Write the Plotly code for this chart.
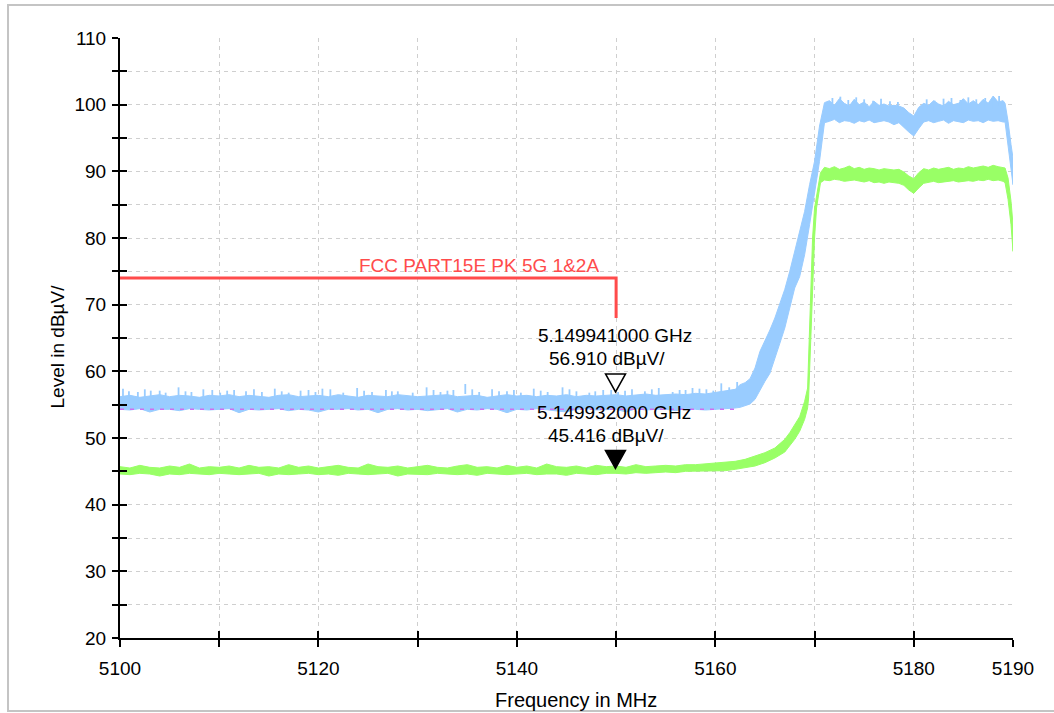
import numpy as np
import plotly.graph_objects as go

# ---------------- data ----------------
# Trace 1 (blue, peak detector): upper / lower envelope of the noisy trace
blue_left_f = np.arange(5100.0, 5162.01, 1.0)
blue_left_hi = [
    56.2, 56.4, 56.1, 56.3, 56.5, 56.2, 56.4, 56.3, 56.1, 56.4,
    56.3, 56.5, 56.2, 56.4, 56.3, 56.1, 56.4, 56.5, 56.2, 56.3,
    56.4, 56.2, 56.5, 56.3, 56.1, 56.4, 56.3, 56.2, 56.5, 56.4,
    56.2, 56.3, 56.4, 56.5, 56.2, 56.3, 56.4, 56.1, 56.3, 56.5,
    56.3, 56.4, 56.2, 56.4, 56.3, 56.5, 56.2, 56.4, 56.3, 56.4,
    56.5, 56.3, 56.4, 56.6, 56.4, 56.5, 56.6, 56.5, 56.7, 56.6,
    56.8, 57.0, 57.3,
]
blue_left_lo = [
    54.3, 54.2, 54.4, 53.9, 54.3, 54.3, 54.1, 54.4, 54.3, 54.2,
    54.3, 54.4, 53.8, 54.3, 54.2, 54.3, 54.4, 54.1, 54.3, 54.2,
    53.9, 54.3, 54.3, 54.4, 54.2, 54.3, 53.8, 54.3, 54.4, 54.2,
    54.3, 54.1, 54.3, 54.4, 53.9, 54.3, 54.2, 54.4, 54.3, 53.8,
    54.3, 54.2, 54.4, 54.3, 54.1, 53.9, 54.3, 54.4, 54.2, 54.3,
    54.3, 53.9, 54.4, 54.2, 54.3, 54.3, 54.1, 54.4, 54.3, 54.2,
    54.3, 54.4, 54.5,
]
# isolated noise spikes above the blue band (frequency, peak level)
blue_spike_f = [5100.3, 5100.9, 5101.8, 5102.5, 5103.1, 5104.0, 5104.6, 5105.9, 5106.6, 5107.2,
                5108.4, 5109.3, 5110.1, 5110.8, 5111.5, 5112.7, 5113.5, 5114.3, 5115.6, 5116.3,
                5117.0, 5118.2, 5119.0, 5119.7, 5120.4, 5121.2, 5122.5, 5123.9, 5124.6, 5125.4,
                5126.8, 5127.4, 5128.0, 5129.5, 5130.9, 5131.6, 5132.3, 5133.0, 5133.6, 5134.8,
                5135.5, 5136.2, 5137.5, 5138.2, 5139.0, 5139.7, 5140.4, 5141.7, 5142.4, 5143.1,
                5144.6, 5145.3, 5146.0, 5147.3, 5147.9, 5148.7, 5149.5, 5150.2, 5150.9, 5151.6,
                5152.9, 5153.6, 5154.3, 5155.7, 5156.4, 5157.0, 5157.7, 5158.4, 5159.1, 5159.8,
                5160.6, 5161.4, 5162.2,
                5171.8, 5172.6, 5173.4, 5174.2, 5175.0, 5175.9, 5176.7, 5177.6, 5178.4, 5181.3,
                5182.1, 5183.0, 5183.8, 5184.7, 5185.5, 5186.3, 5187.2, 5188.0, 5188.6]
blue_spike_v = [57.4, 57.0, 56.9, 57.3, 57.1, 57.1, 56.8, 57.6, 57.0, 56.9,
                57.3, 57.2, 56.8, 57.1, 57.2, 57.0, 57.3, 56.9, 57.4, 57.0,
                56.8, 57.1, 57.2, 56.9, 57.4, 57.3, 56.8, 57.5, 57.1, 56.9,
                57.2, 57.0, 57.0, 56.8, 57.6, 57.2, 56.9, 57.1, 57.2, 58.1,
                57.3, 56.9, 57.3, 57.0, 57.0, 57.2, 56.8, 57.4, 57.1, 56.9,
                57.6, 57.3, 57.0, 56.8, 57.0, 57.2, 57.2, 56.9, 57.1, 57.3,
                57.0, 57.3, 57.5, 56.9, 57.2, 57.2, 57.5, 57.4, 57.3, 57.1,
                58.2, 57.6, 58.4,
                101.0, 101.2, 100.7, 101.1, 100.8, 100.6, 100.9, 100.5, 100.4, 100.8,
                100.6, 100.9, 101.0, 100.7, 101.1, 100.8, 101.0, 100.9, 101.3]
blue_rise_f = [5162.5, 5163, 5163.5, 5164, 5164.5, 5165, 5165.5, 5166, 5166.5,
               5167, 5167.5, 5168, 5168.5, 5169, 5169.5, 5170, 5170.5, 5171]
blue_rise_hi = [58.0, 58.3, 58.9, 60.5, 63.0, 64.5, 66.2, 68.0, 70.2,
                72.3, 75.0, 78.0, 80.7, 84.0, 88.0, 91.5, 96.8, 100.3]
blue_rise_lo = [54.6, 54.8, 55.1, 55.8, 57.2, 58.5, 59.7, 62.0, 64.2,
                66.5, 69.5, 72.5, 74.2, 77.5, 82.0, 86.5, 91.5, 97.3]
blue_top_f = np.arange(5171.5, 5189.01, 0.5)
blue_top_hi = [
    100.6, 99.9, 100.9, 100.2, 99.8, 100.8, 100.0, 100.4, 99.7, 100.5,
    99.9, 100.1, 99.8, 99.9, 99.8, 99.5, 98.8, 98.3, 99.6, 100.2,
    99.9, 100.6, 100.1, 99.8, 100.5, 100.0, 100.2, 100.9, 100.1, 100.6,
    100.0, 100.8, 100.2, 101.3, 100.4, 100.6,
]
blue_top_lo = [
    97.5, 97.8, 97.3, 97.6, 97.5, 97.2, 97.6, 97.4, 97.7, 97.3,
    97.5, 97.6, 97.4, 97.0, 97.3, 96.6, 95.9, 95.3, 96.4, 97.4,
    97.6, 97.3, 97.5, 97.7, 97.2, 97.6, 97.5, 97.3, 97.7, 97.5,
    97.6, 97.3, 97.7, 97.5, 97.6, 97.4,
]
blue_end_f = [5189.2, 5189.5, 5189.8, 5190.0]
blue_end_hi = [100.2, 97.5, 94.0, 92.0]
blue_end_lo = [97.4, 93.5, 90.5, 88.0]

# Trace 2 (green, average detector)
green_left_f = np.arange(5100.0, 5160.01, 1.0)
green_left_hi = [
    45.7, 45.5, 45.9, 45.6, 45.5, 45.8, 45.6, 46.1, 45.5, 45.7,
    45.6, 45.8, 45.5, 45.9, 45.6, 45.7, 45.5, 46.0, 45.6, 45.8,
    45.5, 45.7, 45.9, 45.6, 45.5, 46.1, 45.7, 45.6, 45.8, 45.5,
    45.7, 45.9, 45.6, 45.5, 45.8, 46.0, 45.6, 45.7, 45.5, 45.9,
    45.6, 45.8, 45.5, 46.1, 45.7, 45.6, 45.8, 45.5, 45.9, 45.7,
    45.8, 45.6, 46.0, 45.7, 45.8, 45.9, 45.8, 46.0, 46.0, 46.1,
    46.2,
]
green_left_lo = [
    44.6, 44.5, 44.7, 44.6, 44.3, 44.6, 44.5, 44.7, 44.6, 44.5,
    44.7, 44.6, 44.5, 44.6, 44.7, 44.3, 44.6, 44.5, 44.6, 44.7,
    44.5, 44.6, 44.4, 44.7, 44.6, 44.5, 44.6, 44.7, 44.3, 44.6,
    44.6, 44.5, 44.7, 44.6, 44.5, 44.6, 44.4, 44.7, 44.6, 44.5,
    44.6, 44.7, 44.5, 44.6, 44.6, 44.4, 44.7, 44.6, 44.5, 44.7,
    44.7, 44.6, 44.8, 44.7, 44.8, 44.9, 44.8, 45.0, 45.0, 45.1,
    45.1,
]
green_rise_f = [5161, 5162, 5163, 5164, 5165, 5166, 5167, 5167.5, 5168, 5168.5,
                5169, 5169.3, 5169.4, 5169.55, 5169.8, 5170.0, 5170.2, 5170.6, 5171]
green_rise_hi = [46.3, 46.5, 46.8, 47.3, 47.8, 48.5, 49.8, 50.8, 52.0, 53.2,
                 55.5, 57.5, 62.0, 69.0, 80.0, 84.5, 86.5, 89.8, 90.6]
green_rise_lo = [45.1, 45.3, 45.5, 45.8, 46.3, 47.0, 47.9, 48.8, 49.8, 51.0,
                 52.8, 54.5, 56.0, 62.0, 73.0, 80.0, 84.5, 88.3, 88.7]
green_top_f = np.arange(5171.5, 5189.01, 0.5)
green_top_hi = [
    90.4, 90.7, 90.3, 90.5, 90.8, 90.4, 90.6, 90.3, 90.5, 90.4,
    90.2, 90.4, 90.3, 90.2, 90.3, 89.9, 89.3, 88.9, 89.8, 90.4,
    90.2, 90.5, 90.3, 90.4, 90.6, 90.3, 90.5, 90.4, 90.7, 90.5,
    90.6, 90.8, 90.6, 90.9, 90.7, 90.6,
]
green_top_lo = [
    88.6, 88.8, 88.7, 88.5, 88.6, 88.7, 88.5, 88.4, 88.6, 88.3,
    88.4, 88.2, 88.4, 88.3, 88.2, 87.9, 87.2, 86.7, 87.5, 88.2,
    88.4, 88.5, 88.3, 88.4, 88.5, 88.6, 88.4, 88.5, 88.6, 88.5,
    88.7, 88.6, 88.8, 88.6, 88.7, 88.5,
]
green_end_f = [5189.2, 5189.5, 5189.8, 5190.0]
green_end_hi = [90.5, 89.0, 85.5, 82.0]
green_end_lo = [88.3, 85.8, 82.0, 78.0]

# Trace 3 (magenta, mostly hidden under the blue trace)
magenta_f = [5100, 5162]
magenta_v = [54.3, 54.3]

# Limit line
limit_name = "FCC PART15E PK 5G 1&2A"
limit_f = [5100, 5150, 5150]
limit_v = [74, 74, 68]
limit_label_f = 5136.2

# Markers
marker_f = [5149.941, 5149.932]   # MHz
marker_v = [56.910, 45.416]       # dBuV
marker_filled = [False, True]

# Axes
x_range = [5100, 5190]
y_range = [20, 110]
x_ticks = list(range(5100, 5191, 10))
x_labels = ["5100", "", "5120", "", "5140", "", "5160", "", "5180", "5190"]
y_ticks = list(range(20, 111, 5))
y_labels = [str(v) if v % 10 == 0 else "" for v in y_ticks]

BLUE = "#99CCFF"
GREEN = "#99FF66"
RED = "#FF4B4B"
MAGENTA = "#D070F0"
FONT = "Liberation Sans, Arial, sans-serif"


def band(parts_hi, parts_lo):
    xs_hi, ys_hi, xs_lo, ys_lo = [], [], [], []
    for f, v in parts_hi:
        xs_hi += list(f)
        ys_hi += list(v)
    for f, v in parts_lo:
        xs_lo += list(f)
        ys_lo += list(v)
    return xs_hi + xs_lo[::-1], ys_hi + ys_lo[::-1]


bx, by = band(
    [(blue_left_f, blue_left_hi), (blue_rise_f, blue_rise_hi),
     (blue_top_f, blue_top_hi), (blue_end_f, blue_end_hi)],
    [(blue_left_f, blue_left_lo), (blue_rise_f, blue_rise_lo),
     (blue_top_f, blue_top_lo), (blue_end_f, blue_end_lo)],
)
gx, gy = band(
    [(green_left_f, green_left_hi), (green_rise_f, green_rise_hi),
     (green_top_f, green_top_hi), (green_end_f, green_end_hi)],
    [(green_left_f, green_left_lo), (green_rise_f, green_rise_lo),
     (green_top_f, green_top_lo), (green_end_f, green_end_lo)],
)

# spikes: vertical strokes from 1.5 dB below the peak up to the peak
sx, sy = [], []
for f, v in zip(blue_spike_f, blue_spike_v):
    sx += [f, f, None]
    sy += [v - 1.5, v, None]

fig = go.Figure()
fig.add_trace(go.Scatter(x=bx, y=by, fill="toself", fillcolor=BLUE, mode="lines",
                         line=dict(color=BLUE, width=1), hoverinfo="skip", showlegend=False))
fig.add_trace(go.Scatter(x=sx, y=sy, mode="lines", line=dict(color=BLUE, width=1.8),
                         hoverinfo="skip", showlegend=False))
fig.add_trace(go.Scatter(x=magenta_f, y=magenta_v, mode="lines",
                         line=dict(color=MAGENTA, width=1.5, dash="4px,6px"),
                         hoverinfo="skip", showlegend=False))
fig.add_trace(go.Scatter(x=gx, y=gy, fill="toself", fillcolor=GREEN, mode="lines",
                         line=dict(color=GREEN, width=1), hoverinfo="skip", showlegend=False))
fig.add_trace(go.Scatter(x=limit_f, y=limit_v, mode="lines",
                         line=dict(color=RED, width=3), hoverinfo="skip", showlegend=False))
# helper trace for the overlaid (inside-tick) axes
fig.add_trace(go.Scatter(x=[x_range[0]], y=[y_range[0]], xaxis="x2", yaxis="y2",
                         mode="markers", marker=dict(opacity=0), hoverinfo="skip",
                         showlegend=False))

shapes = []
annotations = []
for f, v, filled in zip(marker_f, marker_v, marker_filled):
    shapes.append(dict(type="path", xref="x", yref="y", xsizemode="pixel", ysizemode="pixel",
                       xanchor=f, yanchor=v, path="M -10,18 L 10,18 L 0,0 Z",
                       fillcolor="black" if filled else "white",
                       line=dict(color="black", width=1.5), layer="above"))
    annotations.append(dict(x=f, y=v, xref="x", yref="y", text=f"{f/1000:.9f} GHz",
                            showarrow=False, yshift=56, xshift=-1, yanchor="middle",
                            font=dict(size=19, color="black", family=FONT)))
    annotations.append(dict(x=f, y=v, xref="x", yref="y", text=f"{v:.3f} dBµV/",
                            showarrow=False, yshift=33, xshift=-9, yanchor="middle",
                            font=dict(size=19, color="black", family=FONT)))

annotations.append(dict(x=limit_label_f, y=limit_v[0], xref="x", yref="y", text=limit_name,
                        showarrow=False, yanchor="bottom", yshift=0,
                        font=dict(size=19, color=RED, family=FONT)))
annotations.append(dict(x=-0.0705, y=0.486, xref="paper", yref="paper", text="Level in dBµV/",
                        textangle=-90, showarrow=False, xanchor="center", yanchor="middle",
                        font=dict(size=19, color="black", family=FONT)))
annotations.append(dict(x=0.5106, y=-0.103, xref="paper", yref="paper", text="Frequency in MHz",
                        showarrow=False, xanchor="center", yanchor="middle",
                        font=dict(size=20, color="black", family=FONT)))

# outer frame
shapes.append(dict(type="rect", xref="paper", yref="paper",
                   x0=-0.1254, x1=1.06, y0=-0.1217, y1=1.055,
                   line=dict(color="#C4C4C4", width=2), layer="below"))

grid = dict(showgrid=True, gridcolor="#CFCFCF", gridwidth=1, griddash="4px,4px")

fig.update_layout(
    width=1054, height=713,
    margin=dict(l=120, r=41, t=38, b=75),
    paper_bgcolor="white", plot_bgcolor="white",
    font=dict(family=FONT, color="black"),
    xaxis=dict(range=x_range, tickvals=x_ticks, ticktext=x_labels, ticks="outside",
               ticklen=7, tickwidth=2, tickcolor="black", showline=True, linecolor="black",
               linewidth=2, zeroline=False, tickfont=dict(size=19), ticklabelstandoff=5,
               **grid),
    yaxis=dict(range=y_range, tickvals=y_ticks, ticktext=y_labels, ticks="outside",
               ticklen=6, tickwidth=2, tickcolor="black", showline=True, linecolor="black",
               linewidth=2, zeroline=False, tickfont=dict(size=19), ticklabelstandoff=2,
               **grid),
    xaxis2=dict(range=x_range, overlaying="x", anchor="y", side="bottom", tickvals=x_ticks,
                ticks="inside", ticklen=7, tickwidth=2, tickcolor="black",
                showticklabels=False, showgrid=False, zeroline=False, showline=False),
    yaxis2=dict(range=y_range, overlaying="y", anchor="x", side="left", tickvals=y_ticks,
                ticks="inside", ticklen=7, tickwidth=2, tickcolor="black",
                showticklabels=False, showgrid=False, zeroline=False, showline=False),
    shapes=shapes,
    annotations=annotations,
)

fig.write_html("out.html")
